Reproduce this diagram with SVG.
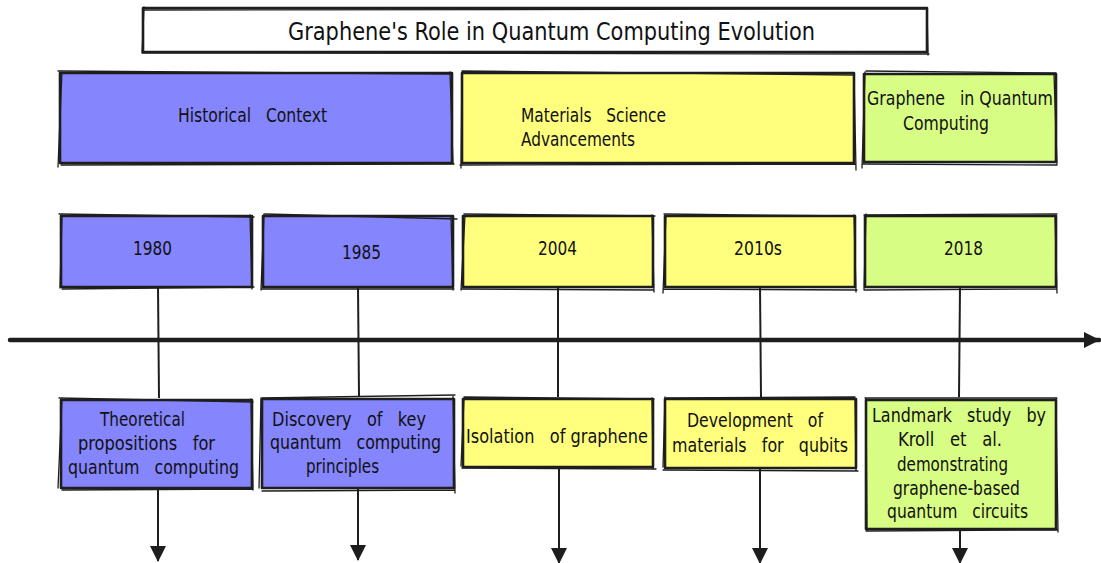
<svg xmlns="http://www.w3.org/2000/svg" width="1101" height="563" viewBox="0 0 1101 563">
<defs>
<style>
.t{font-family:"DejaVu Sans Condensed","Liberation Sans",sans-serif;font-size:20px;fill:#111;white-space:pre;}
.title{font-family:"DejaVu Sans Condensed","Liberation Sans",sans-serif;font-size:25px;fill:#111;white-space:pre;}
.bx{stroke:#1e1e1e;stroke-width:2.6;stroke-linejoin:round;}
.sk{fill:none;stroke:#1e1e1e;stroke-width:1.3;stroke-linecap:round;}
.blue{fill:#8585fd;}
.yel{fill:#ffff7d;}
.grn{fill:#d8fd84;}
.ln{fill:none;stroke:#1e1e1e;stroke-width:2;}
.axis{fill:none;stroke:#1e1e1e;stroke-width:4.5;stroke-linecap:round;}
</style>
<marker id="ah" viewBox="0 0 16 16" refX="15" refY="8" markerWidth="16" markerHeight="16" markerUnits="userSpaceOnUse" orient="auto">
<path d="M0,0 L16,8 L0,16 Z" fill="#1e1e1e"/>
</marker>
<marker id="ahb" viewBox="0 0 16 16" refX="15" refY="8" markerWidth="16" markerHeight="16" markerUnits="userSpaceOnUse" orient="auto">
<path d="M0,0 L16,8 L0,16 Z" fill="#1e1e1e"/>
</marker>
</defs>
<rect width="1101" height="563" fill="#ffffff"/>

<g id="connectors">
<path class="axis" d="M10,340 L1099,340" marker-end="url(#ahb)"/>
<path class="ln" d="M158,287 L159,398"/>
<path class="ln" d="M358,287 L359,396"/>
<path class="ln" d="M558,287 L558,397"/>
<path class="ln" d="M760,287 L761,397"/>
<path class="ln" d="M960,287 L959,397"/>
<path class="ln" d="M158,488 L158,561" marker-end="url(#ah)"/>
<path class="ln" d="M358,489 L358,560" marker-end="url(#ah)"/>
<path class="ln" d="M559,467 L559,563" marker-end="url(#ah)"/>
<path class="ln" d="M760,468 L760,563" marker-end="url(#ah)"/>
<path class="ln" d="M960,530 L960,563" marker-end="url(#ah)"/>
</g>

<g id="title">
<rect class="bx" x="143" y="8" width="784" height="44" fill="#ffffff"/>
<path class="sk" d="M145,10 L926,9 M142,53 L929,54 M144,7 L142,53 M927,8 L928,55"/>
<text class="title" x="288" y="40" textLength="527" lengthAdjust="spacingAndGlyphs">Graphene's Role in Quantum Computing Evolution</text>
</g>

<g id="cat-historical">
<rect class="bx blue" x="60" y="73" width="392" height="90"/>
<path class="sk" d="M58,71 L450,74 M61,165 L454,164 M62,71 L58,167 M450,72 L453,164"/>
<text class="t" x="178" y="122" textLength="149" lengthAdjust="spacingAndGlyphs">Historical   Context</text>
</g>

<g id="cat-materials">
<rect class="bx yel" x="462" y="73" width="392" height="90"/>
<path class="sk" d="M462,71 L853,75 M460,165 L856,164 M462,72 L461,168 M854,74 L856,170"/>
<text class="t" x="521" y="122" textLength="145" lengthAdjust="spacingAndGlyphs">Materials   Science</text>
<text class="t" x="521" y="146" textLength="114" lengthAdjust="spacingAndGlyphs">Advancements</text>
</g>

<g id="cat-graphene">
<rect class="bx grn" x="864" y="74" width="192" height="88"/>
<path class="sk" d="M866,71 L1056,73 M863,164 L1057,165 M865,72 L862,168 M1054,74 L1057,164"/>
<text class="t" x="867" y="105" textLength="186" lengthAdjust="spacingAndGlyphs">Graphene   in Quantum</text>
<text class="t" x="903" y="130" textLength="86" lengthAdjust="spacingAndGlyphs">Computing</text>
</g>

<g id="year-1980">
<rect class="bx blue" x="61" y="216" width="191" height="71"/>
<path class="sk" d="M59,214 L254,217 M62,289 L254,287 M62,214 L60,288 M250,215 L252,289"/>
<text class="t" x="133" y="255" textLength="39" lengthAdjust="spacingAndGlyphs">1980</text>
</g>

<g id="year-1985">
<rect class="bx blue" x="263" y="216" width="190" height="71"/>
<path class="sk" d="M265,214 L457,219 M262,289 L454,289 M264,214 L261,290 M451,217 L453,290"/>
<text class="t" x="342" y="259" textLength="39" lengthAdjust="spacingAndGlyphs">1985</text>
</g>

<g id="year-2004">
<rect class="bx yel" x="463" y="216" width="190" height="71"/>
<path class="sk" d="M464,214 L655,216 M462,289 L654,290 M465,215 L461,290 M652,215 L654,292"/>
<text class="t" x="538" y="255" textLength="39" lengthAdjust="spacingAndGlyphs">2004</text>
</g>

<g id="year-2010s">
<rect class="bx yel" x="665" y="216" width="190" height="71"/>
<path class="sk" d="M664,214 L855,216 M663,289 L857,290 M666,215 L663,293 M854,215 L856,292"/>
<text class="t" x="734" y="255" textLength="48" lengthAdjust="spacingAndGlyphs">2010s</text>
</g>

<g id="year-2018">
<rect class="bx grn" x="865" y="216" width="191" height="71"/>
<path class="sk" d="M864,215 L1057,214 M864,290 L1057,289 M866,214 L864,290 M1055,216 L1057,293"/>
<text class="t" x="944" y="255" textLength="39" lengthAdjust="spacingAndGlyphs">2018</text>
</g>

<g id="ev-theoretical">
<rect class="bx blue" x="61" y="400" width="191" height="88"/>
<path class="sk" d="M59,398 L253,402 M62,490 L253,489 M62,398 L58,488 M251,399 L253,490"/>
<text class="t" x="100" y="426" textLength="85" lengthAdjust="spacingAndGlyphs">Theoretical</text>
<text class="t" x="78" y="450" textLength="137" lengthAdjust="spacingAndGlyphs">propositions   for</text>
<text class="t" x="68" y="474" textLength="171" lengthAdjust="spacingAndGlyphs">quantum   computing</text>
</g>

<g id="ev-discovery">
<rect class="bx blue" x="262" y="399" width="192" height="89"/>
<path class="sk" d="M262,398 L455,395 M262,491 L455,490 M261,398 L259,488 M453,396 L455,493"/>
<text class="t" x="272" y="426" textLength="154" lengthAdjust="spacingAndGlyphs">Discovery   of   key</text>
<text class="t" x="270" y="449" textLength="171" lengthAdjust="spacingAndGlyphs">quantum   computing</text>
<text class="t" x="306" y="473" textLength="73" lengthAdjust="spacingAndGlyphs">principles</text>
</g>

<g id="ev-isolation">
<rect class="bx yel" x="463" y="399" width="190" height="68"/>
<path class="sk" d="M464,397 L654,399 M462,468 L656,469 M464,398 L461,466 M652,398 L653,468"/>
<text class="t" x="466" y="443" textLength="182" lengthAdjust="spacingAndGlyphs">Isolation   of graphene</text>
</g>

<g id="ev-development">
<rect class="bx yel" x="665" y="399" width="191" height="69"/>
<path class="sk" d="M666,398 L855,397 M663,470 L858,471 M665,397 L663,467 M855,398 L856,470"/>
<text class="t" x="687" y="427" textLength="136" lengthAdjust="spacingAndGlyphs">Development   of</text>
<text class="t" x="672" y="452" textLength="176" lengthAdjust="spacingAndGlyphs">materials   for   qubits</text>
</g>

<g id="ev-landmark">
<rect class="bx grn" x="866" y="400" width="190" height="129"/>
<path class="sk" d="M865,398 L1057,398 M866,531 L1057,530 M866,399 L867,530 M1056,398 L1058,532"/>
<text class="t" x="872" y="422" textLength="174" lengthAdjust="spacingAndGlyphs">Landmark   study   by</text>
<text class="t" x="898" y="446" textLength="104" lengthAdjust="spacingAndGlyphs">Kroll   et   al.</text>
<text class="t" x="897" y="471" textLength="111" lengthAdjust="spacingAndGlyphs">demonstrating</text>
<text class="t" x="893" y="495" textLength="127" lengthAdjust="spacingAndGlyphs">graphene-based</text>
<text class="t" x="887" y="518" textLength="141" lengthAdjust="spacingAndGlyphs">quantum   circuits</text>
</g>
</svg>
